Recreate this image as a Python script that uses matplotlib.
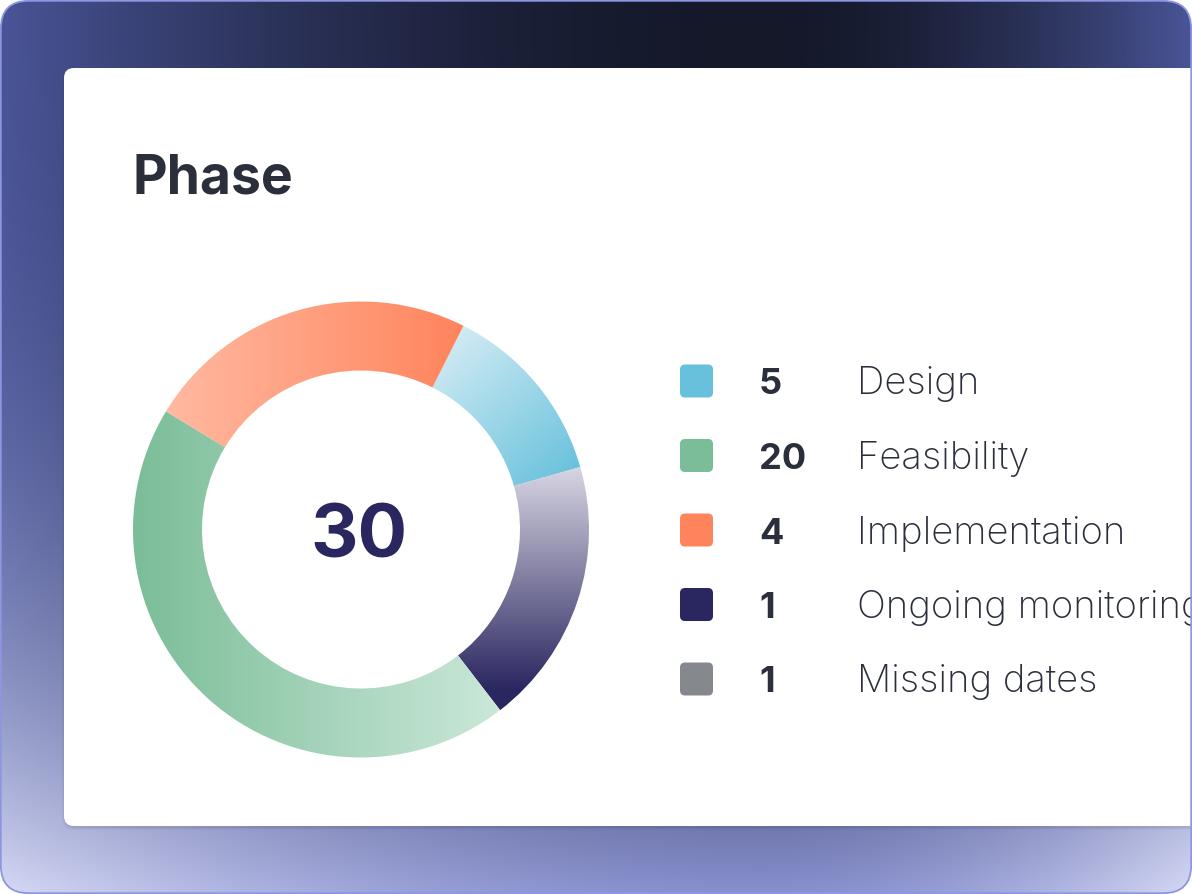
import numpy as np
import matplotlib
matplotlib.use("Agg")
import matplotlib.pyplot as plt
from matplotlib.patches import Wedge, FancyBboxPatch
from matplotlib.colors import to_rgb

# ---------------- data ----------------
title = "Phase"
total_label = "30"
categories = ["Design", "Feasibility", "Implementation", "Ongoing monitoring", "Missing dates"]
counts = [5, 20, 4, 1, 1]
colors = ["#67c1dc", "#7bbd98", "#ff845c", "#2a2660", "#85888d"]
# donut arcs as drawn in the picture (clockwise order, degrees of the ring)
ring_order = ["Design", "Ongoing monitoring", "Feasibility", "Implementation"]
ring_span_deg = [47.4, 68.3, 158.8, 85.5]
ring_start_deg = 63.3

# ---------------- layout ----------------
W, H = 1192, 894
fig = plt.figure(figsize=(W / 100, H / 100), dpi=100, facecolor="white")
ax = fig.add_axes([0, 0, 1, 1])
ax.set_xlim(0, W)
ax.set_ylim(0, H)
ax.axis("off")

def Y(y):  # pixel (top-down) -> data
    return H - y

# ---------------- background gradient ----------------
xs = np.arange(W) + 0.5
ys = np.arange(H) + 0.5
XX, YY = np.meshgrid(xs, ys)
cx0 = 760.0
d = np.where(XX < cx0, (cx0 - XX) / cx0, (XX - cx0) / (W - cx0))
h = (np.clip(d, 0, 1) ** 1.8)[..., None]
v = ((YY / H) ** 2.8)[..., None]
dark = np.array(to_rgb("#141829"))
edge_top = np.array(to_rgb("#4a5598"))
bot_c = np.array(to_rgb("#8890d0"))
bot_e = np.array(to_rgb("#d6daf5"))
top = dark + (edge_top - dark) * h
bot = bot_c + (bot_e - bot_c) * h
bg = top + (bot - top) * v

outer = FancyBboxPatch((0.8, 0.8), W - 1.6, H - 1.6,
                       boxstyle="round,pad=0,rounding_size=28",
                       facecolor="none", edgecolor="none")
ax.add_patch(outer)
im = ax.imshow(bg, extent=(0, W, 0, H), origin="upper", zorder=0, interpolation="bilinear")
im.set_clip_path(outer)

# ---------------- card ----------------
for i, a in enumerate([0.05, 0.04, 0.03]):
    sh = FancyBboxPatch((64 - i, Y(826) - 2 - i), 1200, 758 + 2 * i,
                        boxstyle="round,pad=0,rounding_size=12",
                        facecolor="#1a1f40", edgecolor="none", alpha=a, zorder=1)
    ax.add_patch(sh)
    sh.set_clip_path(outer)
card = FancyBboxPatch((64, Y(826)), 1125, 758,
                      boxstyle="square,pad=0",
                      facecolor="white", edgecolor="none", zorder=2)
card_round = FancyBboxPatch((64, Y(826)), 1200, 758,
                            boxstyle="round,pad=0,rounding_size=10",
                            facecolor="white", edgecolor="none", zorder=2)
ax.add_patch(card_round)
card_round.set_clip_path(outer)
ax.add_patch(card)
card.set_visible(False)

border = FancyBboxPatch((0.8, 0.8), W - 1.6, H - 1.6,
                        boxstyle="round,pad=0,rounding_size=28",
                        facecolor="none", edgecolor="#8e96e2", lw=1.3, zorder=10)
ax.add_patch(border)

# ---------------- title ----------------
ax.text(133, Y(193), title, fontsize=38.5, fontweight="bold", color="#2b2f3b",
        family=["Inter", "DejaVu Sans"], ha="left", va="baseline", zorder=5)

# ---------------- donut ----------------
cx, cy = 361, Y(529.5)
R, Rin = 228, 159

# gradient definitions per category: (p0, p1 in pixel coords, light color, full color)
grad = {
    "Design": ((440, 340), (565, 485), "#d3ecf4", "#67c1dc"),
    "Ongoing monitoring": ((0, 467), (0, 690), "#d8d6e3", "#2a2660"),
    "Feasibility": ((510, 0), (133, 0), "#cde9da", "#7bbd98"),
    "Implementation": ((167, 0), (463, 0), "#ffb9a1", "#ff845c"),
}

px = XX
py = YY
theta = ring_start_deg
for name, span in zip(ring_order, ring_span_deg):
    t1, t2 = theta - span, theta
    theta -= span
    w = Wedge((cx, cy), R, t1, t2, width=R - Rin, facecolor="none", edgecolor="none")
    ax.add_patch(w)
    (x0, y0), (x1, y1), cl, cf = grad[name]
    dx, dy = x1 - x0, y1 - y0
    if dx == 0:
        t = (py - y0) / dy
    elif dy == 0:
        t = (px - x0) / dx
    else:
        t = ((px - x0) * dx + (py - y0) * dy) / (dx * dx + dy * dy)
    t = np.clip(t, 0, 1)[..., None]
    c0, c1 = np.array(to_rgb(cl)), np.array(to_rgb(cf))
    img = c0 + (c1 - c0) * t
    gi = ax.imshow(img, extent=(0, W, 0, H), origin="upper", zorder=3, interpolation="bilinear")
    gi.set_clip_path(w)

ax.text(359, Y(557), total_label, fontsize=53, fontweight="bold", color="#2a2660",
        family=["Inter", "DejaVu Sans"], ha="center", va="baseline", zorder=5)

# ---------------- legend ----------------
row0, step = 381, 74.5
for i, (cat, n, col) in enumerate(zip(categories, counts, colors)):
    yc = row0 + i * step
    sq = FancyBboxPatch((680, Y(yc) - 16.5), 33, 33,
                        boxstyle="round,pad=0,rounding_size=5",
                        facecolor=col, edgecolor="none", zorder=5)
    ax.add_patch(sq)
    ax.text(759, Y(yc + 13.5), str(n), fontsize=26, fontweight="bold", color="#2b2f3b",
            family=["Inter", "DejaVu Sans"], ha="left", va="baseline", zorder=5)
    tx = ax.text(857, Y(yc + 13.5), cat, fontsize=27.5, fontweight="light", color="#2b2f3b",
                 family=["Inter", "DejaVu Sans"], ha="left", va="baseline", zorder=5)
    tx.set_clip_path(card)

fig.savefig("out.png", dpi=100, facecolor="white")
